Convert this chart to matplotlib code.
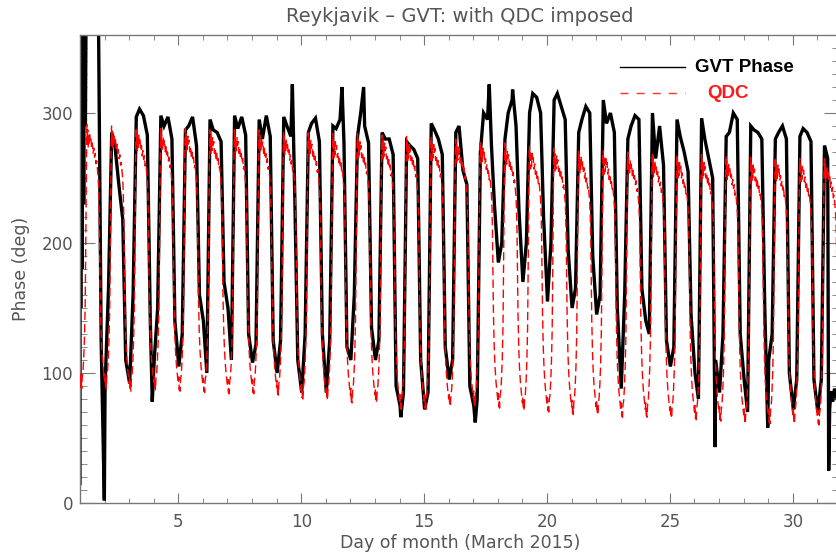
import numpy as np
import matplotlib
matplotlib.use("Agg")
import matplotlib.pyplot as plt
from matplotlib.ticker import MultipleLocator, FixedLocator
from matplotlib.lines import Line2D

# ---------------- data ----------------
days = list(range(1, 32))

# Quiet-day curve: typical daily profile (fraction of day, degrees)
qdc_prof_f = [0.00, 0.02, 0.04, 0.05, 0.07, 0.09, 0.12, 0.15, 0.18, 0.21, 0.235, 0.255,
              0.27, 0.285, 0.30, 0.315, 0.33, 0.35, 0.37, 0.39, 0.41, 0.44, 0.47, 0.50,
              0.53, 0.56, 0.59, 0.62, 0.65, 0.68, 0.71, 0.735, 0.76, 0.78, 0.80, 0.82,
              0.85, 0.88, 0.92, 0.96]
qdc_prof_v = [93, 98, 88, 92, 87, 96, 100, 110, 125, 150, 200, 250,
              280, 290, 279, 286, 272, 282, 274, 284, 278, 281, 272, 276,
              268, 272, 265, 268, 260, 262, 255, 250, 240, 222, 190, 160,
              135, 120, 108, 100]
# daily QDC maximum (days 1..31) and trough minimum (troughs at day 1.05 .. 32.05)
qdc_peak = [291, 290, 289, 288, 288, 287, 287, 287, 286, 285, 284, 284, 283, 282, 282, 280,
            279, 277, 275, 273, 272, 271, 270, 269, 268, 268, 267, 266, 266, 265, 265]
qdc_min = [88, 88, 86, 87, 86, 85, 84, 84, 83, 80, 79, 77, 77, 72, 72, 74,
           75, 73, 71, 70, 68, 68, 66, 66, 65, 64, 63, 62, 61, 62, 60, 60]

# GVT phase: daytime plateau values (p1..p4) and night trough values (t1..t3) per day
nan = float("nan")
gvt_p1 = [400, 285, 297, 298, 287, 295, 298, 295, 297, 285, 290, 282, 285, 278, 292, 285,
          270, 280, 300, 310, 285, 310, 280, 300, 295, 296, 282, 290, 280, 282, 275]
gvt_p2 = [400, 275, 303, 290, 290, 287, 288, 280, 290, 292, 288, 300, 280, 275, 287, 290,
          300, 300, 315, 315, 295, 292, 290, 265, 282, 280, 285, 287, 285, 288, 265]
gvt_p3 = [400, 245, 298, 297, 297, 285, 297, 298, 282, 296, 295, 290, 280, 272, 280, 256,
          295, 310, 312, 305, 305, 300, 298, 290, 270, 265, 300, 285, 290, 285, nan]
gvt_p4 = [400, 218, 283, 280, 275, 278, 283, 282, 235, 278, 277, 277, 268, 265, 268, 245,
          275, 290, 300, 295, 300, 285, 295, 260, 255, 250, 295, 280, 280, 278, nan]
gvt_t1 = [125, 110, 140, 140, 160, 170, 130, 125, 110, 130, 120, 135, 90, 110, 120, 90,
          230, 225, 220, 195, 190, 150, 165, 125, 145, 110, 130, 150, 100, 95, nan]
gvt_t2 = [90, 92, 110, 105, 140, 150, 108, 100, 85, 85, 110, 110, 75, 72, 95, 75,
          185, 170, 155, 150, 145, 88, 140, 105, 100, 85, 95, 110, 72, 70, nan]
gvt_t3 = [165, 160, 150, 130, 100, 110, 122, 125, 130, 125, 160, 125, 85, 85, 110, 80,
          200, 200, 200, 165, 160, 160, 130, 120, 80, 130, 70, 130, 95, 95, nan]
# isolated spikes
spike_t = [1.99, 3.94, 9.64, 11.66, 12.54, 14.05, 17.08, 17.65, 18.6, 26.84, 28.98]
spike_v = [2, 78, 322, 320, 320, 66, 62, 322, 318, 43, 58]
# disturbed start of day 1 and end of record
gvt_start_t = [1.00, 1.01, 1.03, 1.05, 1.08, 1.11, 1.15, 1.18, 1.22, 1.25]
gvt_start_v = [15, 380, 150, 380, 180, 380, 230, 380, 290, 390]
gvt_end_t = [31.46, 31.50, 31.55, 31.62, 31.70, 31.80, 31.90]
gvt_end_v = [25, 72, 86, 78, 88, 80, 84]

# ---------------- build series ----------------
pmin, pmax = min(qdc_prof_v), max(qdc_prof_v)
q_t, q_v = [], []
for i, d in enumerate(days):
    for f, v in zip(qdc_prof_f, qdc_prof_v):
        lo = qdc_min[i] if f < 0.5 else qdc_min[i + 1]
        q_t.append(d + f)
        q_v.append(lo + (v - pmin) / (pmax - pmin) * (qdc_peak[i] - lo))

offs = [0.29, 0.42, 0.58, 0.74, 0.86, 1.02, 1.16]
g = list(zip(gvt_start_t, gvt_start_v))
for i, d in enumerate(days):
    vals = [gvt_p1[i], gvt_p2[i], gvt_p3[i], gvt_p4[i], gvt_t1[i], gvt_t2[i], gvt_t3[i]]
    for o, v in zip(offs, vals):
        if not np.isnan(v):
            g.append((d + o, v))
g += list(zip(spike_t, spike_v))
g += list(zip(gvt_end_t, gvt_end_v))
g.sort()
g_t = [p[0] for p in g]
g_v = [p[1] for p in g]

# ---------------- plot ----------------
W, H = 836, 558
fig = plt.figure(figsize=(W / 100, H / 100), dpi=100)
ax = fig.add_axes([80 / W, 1 - 503 / H, (839.5 - 80) / W, (503 - 35) / H])

ax.plot(g_t, g_v, color="black", lw=2.4, zorder=2, solid_joinstyle="miter")
ax.plot(q_t, q_v, color="#ff0000", lw=1.0, ls=(0, (6, 3)), zorder=3)

ax.set_xlim(1, 31.9)
ax.set_ylim(0, 360)

grey = "#555555"
for s in ax.spines.values():
    s.set_color("#777777")
    s.set_linewidth(1.0)

ax.xaxis.set_major_locator(FixedLocator([5, 10, 15, 20, 25, 30]))
ax.xaxis.set_minor_locator(MultipleLocator(1))
ax.yaxis.set_major_locator(FixedLocator([0, 100, 200, 300]))
ax.yaxis.set_minor_locator(MultipleLocator(10))
ax.tick_params(axis="both", which="both", direction="in", top=True, right=True,
               colors="#777777", labelcolor=grey, labelsize=12)
ax.tick_params(axis="x", which="major", length=7.5, pad=7)
ax.tick_params(axis="x", which="minor", length=3.8)
ax.tick_params(axis="y", which="major", length=11, pad=5)
ax.tick_params(axis="y", which="minor", length=5)

ax.set_xlabel("Day of month (March 2015)", fontsize=12.5, color=grey, labelpad=2)
ax.set_ylabel("Phase (deg)", fontsize=12.5, color=grey, labelpad=8)
fig.text(459.5 / W, 1 - 17 / H, "Reykjavik \u2013 GVT: with QDC imposed",
         ha="center", va="center", fontsize=14, color=grey)

# legend (manual)
fig.add_artist(Line2D([620 / W, 685 / W], [1 - 67 / H, 1 - 67 / H],
                      transform=fig.transFigure, color="black", lw=1.0))
fig.add_artist(Line2D([620 / W, 685 / W], [1 - 93 / H, 1 - 93 / H],
                      transform=fig.transFigure, color="#ff3030", lw=1.0,
                      ls=(0, (5.8, 5.8))))
fig.text(695 / W, 1 - 67 / H, "GVT Phase", ha="left", va="center", fontsize=13.5,
         fontweight="bold", family="Liberation Sans", color="black")
fig.text(707 / W, 1 - 93 / H, "QDC", ha="left", va="center", fontsize=13.5,
         fontweight="bold", family="Liberation Sans", color="#ff1a1a")

fig.savefig("out.png", dpi=100)
